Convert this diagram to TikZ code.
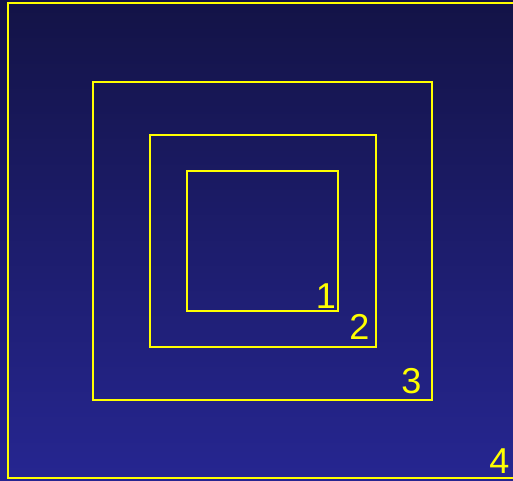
\documentclass[tikz,border=0pt]{standalone}
\usepackage{fontspec}
\setmainfont{Liberation Sans}
\definecolor{bgtop}{RGB}{19,19,70}
\definecolor{bgbot}{RGB}{38,38,145}
\definecolor{ylw}{RGB}{255,255,0}
\tikzset{
  frame/.style={draw=ylw, line width=2pt},
  lbl/.style={text=ylw, font=\fontsize{36}{36}\selectfont, inner sep=0pt, anchor=base east}
}
\begin{document}
\begin{tikzpicture}[x=1pt,y=-1pt]
\useasboundingbox (0,0) rectangle (513,480);
\clip (0,0) rectangle (513,480);
\shade[top color=bgtop, bottom color=bgbot] (0,0) rectangle (513,480);
\draw[frame] (8,3) rectangle (520,478);
\draw[frame] (93,82) rectangle (432,400);
\draw[frame] (150,135) rectangle (376,347);
\draw[frame] (187,171) rectangle (338,311);
\node[lbl] (n1) at (336,308) {1};
\node[lbl] (n2) at (369.5,339) {2};
\node[lbl] (n3) at (421.5,393) {3};
\node[lbl] (n4) at (509.5,473) {4};
\end{tikzpicture}
\end{document}
